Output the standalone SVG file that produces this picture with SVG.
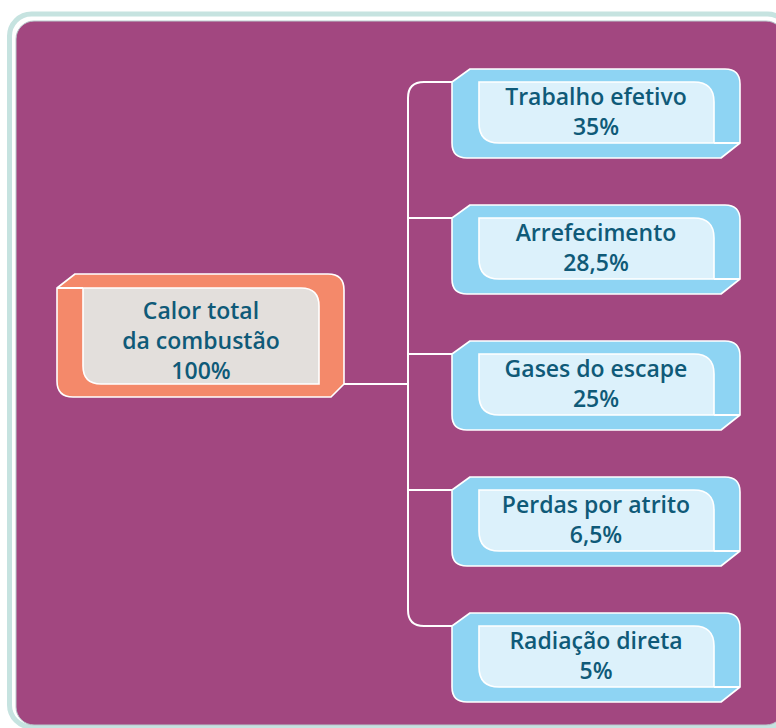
<svg xmlns="http://www.w3.org/2000/svg" width="776" height="728" viewBox="0 0 776 728">
<style>
.outerB{fill:#8ed4f3;stroke:#ffffff;stroke-width:1.6;stroke-linejoin:round}
.innerB{fill:#dcf1fb;stroke:#ffffff;stroke-width:1.6}
.outerO{fill:#f4896a;stroke:#ffffff;stroke-width:1.6;stroke-linejoin:round}
.innerO{fill:#e3dfdc;stroke:#ffffff;stroke-width:1.6}
.edge{fill:none;stroke:#ffffff;stroke-width:2}
.t{font-family:"Open Sans","Noto Sans",sans-serif;font-size:23px;font-weight:600;fill:#0f5a78;text-anchor:middle}
</style>
<defs>
<g id="bnode">
<path class="outerB" d="M470,0 H725 Q740,0 740,15 V74 L721,89 H467 Q452,89 452,74 V13 Z"/>
<path class="innerB" d="M479,13 H694 Q714,13 714,33 V74 H499 Q479,74 479,54 Z"/>
<path class="edge" d="M714,74 H740" stroke-width="1.6"/>
</g>
</defs>
<rect x="9.5" y="14" width="780" height="713" rx="22" fill="none" stroke="#c6e3e0" stroke-width="5"/>
<rect x="16" y="21" width="768" height="704" rx="18" fill="#a24780" stroke="#b9c9cc" stroke-width="1"/>
<g id="connectors">
<path class="edge" d="M479,82 H424 Q408,82 408,98 V610 Q408,626 424,626 H479"/>
<path class="edge" d="M408,218 H479 M408,354 H479 M408,490 H479"/>
<path class="edge" d="M319,384 H408"/>
</g>
<g id="n0">
<path class="outerO" d="M75,274 H328 Q344,274 344,290 V384 L331,397 H73 Q57,397 57,381 V288 Z"/>
<path class="innerO" d="M83,288 H301 Q319,288 319,306 V384 H101 Q83,384 83,366 Z"/>
<path class="edge" d="M57,288 H83" stroke-width="1.6"/>
<text class="t" x="201" y="319">Calor total</text>
<text class="t" x="201" y="349">da combustão</text>
<text class="t" x="201" y="379">100%</text>
</g>
<g id="n1">
<use href="#bnode" y="69"/>
<text class="t" x="596" y="105">Trabalho efetivo</text>
<text class="t" x="596" y="135">35%</text>
</g>
<g id="n2">
<use href="#bnode" y="205"/>
<text class="t" x="596" y="241">Arrefecimento</text>
<text class="t" x="596" y="271">28,5%</text>
</g>
<g id="n3">
<use href="#bnode" y="341"/>
<text class="t" x="596" y="377">Gases do escape</text>
<text class="t" x="596" y="407">25%</text>
</g>
<g id="n4">
<use href="#bnode" y="477"/>
<text class="t" x="596" y="513">Perdas por atrito</text>
<text class="t" x="596" y="543">6,5%</text>
</g>
<g id="n5">
<use href="#bnode" y="613"/>
<text class="t" x="596" y="649">Radiação direta</text>
<text class="t" x="596" y="679">5%</text>
</g>
</svg>
